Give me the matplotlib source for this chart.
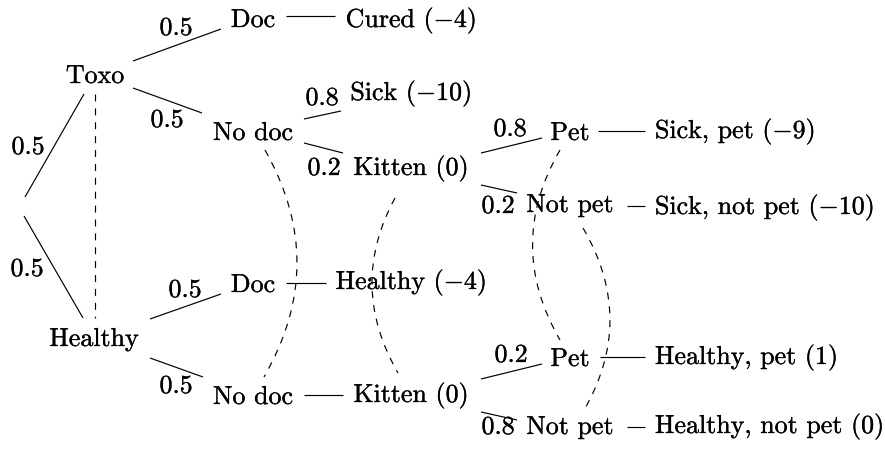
import matplotlib
matplotlib.use("Agg")
import matplotlib.pyplot as plt
import matplotlib.patheffects as pe
from matplotlib.path import Path
from matplotlib.patches import PathPatch

plt.rcParams['mathtext.fontset'] = 'cm'
plt.rcParams['font.family'] = ['cmr10', 'DejaVu Serif']
plt.rcParams['lines.scale_dashes'] = False
plt.rcParams['axes.unicode_minus'] = False

# ---------------- data ----------------
state_names = ["Toxo", "Healthy"]
state_probs = [0.5, 0.5]
action_names = ["Doc", "No doc"]
action_probs = [0.5, 0.5]
kitten_outcomes = ["Sick", "Kitten"]
kitten_probs = [0.8, 0.2]
pet_names = ["Pet", "Not pet"]
pet_probs_sick = [0.8, 0.2]
pet_probs_healthy = [0.2, 0.8]
payoff_cured = -4
payoff_sick = -10
payoff_kitten = 0
payoff_healthy_doc = -4
payoff_sick_pet = -9
payoff_sick_notpet = -10
payoff_healthy_pet = 1
payoff_healthy_notpet = 0


def fmt(v):
    return f"($-${abs(v)})" if v < 0 else f"({v})"


def pfmt(p):
    return f"{p:.1f}"


# ---------------- layout (pixel coordinates) ----------------
FS = 18.7
LW = 0.85

fig = plt.figure(figsize=(8.85, 4.51), dpi=100)
ax = fig.add_axes([0, 0, 1, 1])
ax.set_xlim(0, 885)
ax.set_ylim(451, 0)
ax.axis('off')

TXT_FX = [pe.withStroke(linewidth=0.2, foreground='black')]


def node(text, x, yb, ha='center'):
    ax.text(x, yb, text, ha=ha, va='baseline', fontsize=FS, color='black',
            path_effects=TXT_FX)


def seg(p, q):
    ax.plot([p[0], q[0]], [p[1], q[1]], color='black', lw=LW,
            solid_capstyle='butt')


def dseg(p, q):
    ax.plot([p[0], q[0]], [p[1], q[1]], color='black', lw=LW, dashes=(5, 5))


def curve(p0, c, p2):
    path = Path([p0, c, p2], [Path.MOVETO, Path.CURVE3, Path.CURVE3])
    patch = PathPatch(path, facecolor='none', edgecolor='black', lw=LW,
                      linestyle=(0, (5, 5)))
    ax.add_patch(patch)


# nodes
node(state_names[0], 95, 83)
node(state_names[1], 94, 346)
node(action_names[0], 253, 27)
node(action_names[1], 253, 140)
node(action_names[0], 253, 292)
node(action_names[1], 253, 404)
node(f"Cured {fmt(payoff_cured)}", 411, 27)
node(f"{kitten_outcomes[0]} {fmt(payoff_sick)}", 411, 100)
node(f"{kitten_outcomes[1]} {fmt(payoff_kitten)}", 411, 175)
node(f"Healthy {fmt(payoff_healthy_doc)}", 411, 289)
node(f"{kitten_outcomes[1]} {fmt(payoff_kitten)}", 411, 402)
node(pet_names[0], 570, 140)
node(pet_names[1], 570, 212)
node(pet_names[0], 570, 366)
node(pet_names[1], 570, 434)
node(f"Sick, pet {fmt(payoff_sick_pet)}", 655, 138, ha='left')
node(f"Sick, not pet {fmt(payoff_sick_notpet)}", 655, 214, ha='left')
node(f"Healthy, pet {fmt(payoff_healthy_pet)}", 655, 364, ha='left')
node(f"Healthy, not pet {fmt(payoff_healthy_notpet)}", 655, 433, ha='left')

# probability branches: (start, end, probability, label position)
branches = [
    ((25, 197), (84, 94), state_probs[0], (28, 154)),
    ((24, 216), (83, 318), state_probs[1], (27, 276)),
    ((133, 61), (221, 29), action_probs[0], (176, 35)),
    ((133, 88), (202, 113), action_probs[1], (167, 127)),
    ((150, 319), (221, 294), action_probs[0], (185, 297)),
    ((150, 358), (203, 377), action_probs[1], (176, 393)),
    ((304, 119), (341, 111), kitten_probs[0], (322, 105)),
    ((304, 143), (343, 153), kitten_probs[1], (324, 175)),
    ((481, 153), (542, 138), pet_probs_sick[0], (510, 136)),
    ((481, 185), (517, 193), pet_probs_sick[1], (498, 213)),
    ((481, 379), (542, 364), pet_probs_healthy[0], (511, 362)),
    ((481, 412), (517, 420), pet_probs_healthy[1], (498, 434)),
]
for p, q, prob, lp in branches:
    seg(p, q)
    node(pfmt(prob), lp[0], lp[1])

# plain connectors to outcomes
for p, q in [((286, 16), (335, 16)), ((286, 283), (326, 283)),
             ((304, 395), (343, 395)), ((598, 131), (645, 131)),
             ((627, 206), (645, 206)), ((600, 357), (645, 357)),
             ((627, 427), (645, 427))]:
    seg(p, q)

# information sets (dashed)
dseg((95, 94), (95, 318))
curve((265, 150), (329.5, 263.5), (264, 377))
curve((395, 198), (347.5, 285.5), (398, 373))
curve((560, 150), (505, 245), (560, 340))
curve((583, 228), (637, 320), (583, 412))

fig.savefig("out.png", dpi=100)
